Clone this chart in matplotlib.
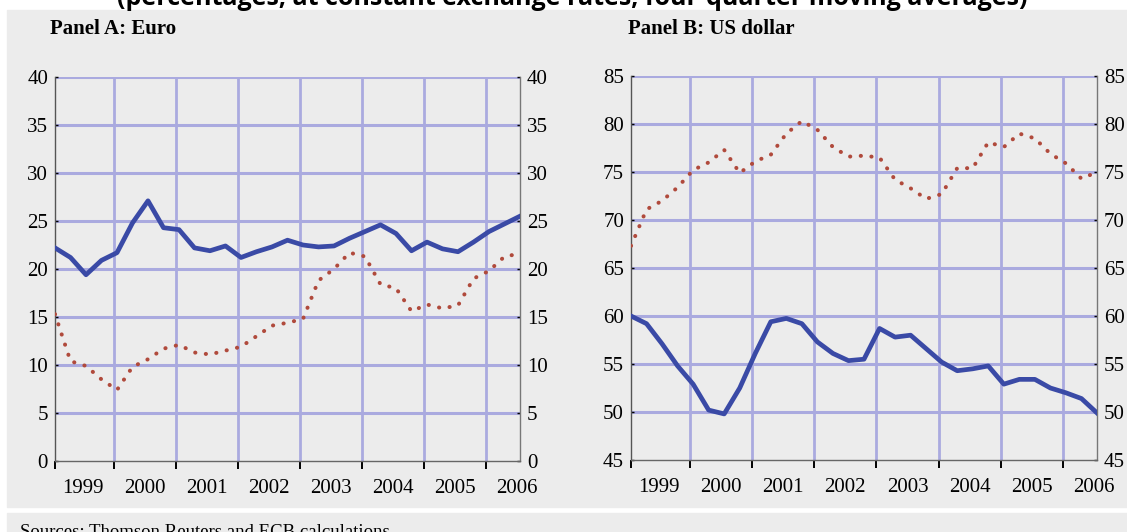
#!/usr/bin/env python3
"""Euro and US dollar shares, two panels, quarterly four-quarter moving averages."""

import numpy as np
import matplotlib
matplotlib.use('Agg')
import matplotlib.pyplot as plt
from matplotlib.patches import Rectangle
from matplotlib.ticker import FixedLocator, NullFormatter, FixedFormatter

# quarterly observations 1999Q1 .. 2006Q3 (31 points)
quarters = 1999.05 + 0.25 * np.arange(31)

euro_solid = [22.2, 21.2, 19.4, 20.9, 21.7, 24.8, 27.1, 24.3, 24.1, 22.2, 21.9,
              22.4, 21.2, 21.8, 22.3, 23.0, 22.5, 22.3, 22.4, 23.2, 23.9, 24.6,
              23.7, 21.9, 22.8, 22.1, 21.8, 22.8, 23.9, 24.7, 25.5]
euro_dotted = [15.3, 10.4, 9.9, 8.5, 7.4, 9.8, 10.6, 11.7, 12.1, 11.3, 11.1,
               11.5, 11.9, 13.0, 14.1, 14.4, 14.8, 18.8, 20.0, 21.7, 21.3, 18.4,
               18.0, 15.6, 16.3, 15.9, 16.2, 19.0, 19.8, 21.3, 21.6]

usd_solid = [60.0, 59.2, 57.1, 54.8, 52.9, 50.2, 49.8, 52.5, 56.1, 59.4, 59.75,
             59.2, 57.3, 56.1, 55.35, 55.5, 58.7, 57.8, 58.0, 56.6, 55.2, 54.3,
             54.5, 54.8, 52.9, 53.4, 53.4, 52.5, 52.0, 51.4, 49.9]
usd_dotted = [67.3, 71.1, 72.0, 73.4, 75.2, 76.0, 77.3, 74.9, 76.1, 76.8, 79.0,
              80.3, 79.4, 77.6, 76.6, 76.7, 76.5, 74.2, 73.3, 72.2, 72.7, 75.4,
              75.4, 78.1, 77.6, 79.0, 78.5, 76.9, 75.9, 74.3, 75.0]

years = [1999, 2000, 2001, 2002, 2003, 2004, 2005, 2006]
year_labels = [str(y) for y in years]

euro_yticks = [0, 5, 10, 15, 20, 25, 30, 35, 40]
usd_yticks = [45, 50, 55, 60, 65, 70, 75, 80, 85]

title = "(percentages; at constant exchange rates; four-quarter moving averages)"
panel_titles = ["Panel A: Euro", "Panel B: US dollar"]
source = "Sources: Thomson Reuters and ECB calculations"

BG = '#ececec'
GRID = '#aaaadf'
BLUE = '#3a4aa6'
RED = '#b04a3c'
SERIF = 'Liberation Serif'

W, H = 1127, 532
fig = plt.figure(figsize=(W / 100, H / 100), dpi=100, facecolor='white')

# grey background panels, kept behind the axes
fig.patches.append(Rectangle((7 / W, 1 - 507 / H), 1 - 7 / W, (507 - 10) / H,
                             transform=fig.transFigure, color=BG, zorder=-10))
fig.patches.append(Rectangle((7 / W, 0), 1 - 7 / W, (532 - 513) / H,
                             transform=fig.transFigure, color=BG, zorder=-10))

fig.text(0.508, 1 - 5 / H, title, ha='center', va='baseline',
         fontsize=18, fontweight='bold', family='Open Sans')
fig.text(20 / W, 1 - 537 / H, source, ha='left', va='baseline',
         fontsize=13.5, family=SERIF)


def draw_panel(rect, solid, dotted, yticks, ptitle, title_x):
    ax = fig.add_axes(rect)
    ax.set_facecolor(BG)
    ax.set_xlim(1999.05, 2006.55)
    ax.set_ylim(yticks[0], yticks[-1])

    for yv in yticks[1:]:
        ax.axhline(yv, color=GRID, linewidth=2.2, zorder=1)
    for xv in years[1:]:
        ax.axvline(xv, color=GRID, linewidth=2.0, zorder=1)

    ax.plot(quarters, dotted, color=RED, linestyle=(0, (0.05, 2.6)),
            linewidth=2.9, dash_capstyle='round', zorder=3)
    ax.plot(quarters, solid, color=BLUE, linewidth=3.4, zorder=4,
            solid_joinstyle='round')

    ax.spines['top'].set_visible(False)
    ax.spines['left'].set_color('#555555')
    ax.spines['right'].set_color('#777777')
    ax.spines['bottom'].set_color('#666666')
    for s in ['left', 'right', 'bottom']:
        ax.spines[s].set_linewidth(1.0)

    ax.set_yticks(yticks)
    ax.tick_params(axis='y', left=True, right=True, labelleft=True,
                   labelright=True, direction='in', length=2, width=1,
                   color='black', labelsize=15, pad=5)

    ax.xaxis.set_major_locator(FixedLocator([1999.05] + years[1:]))
    ax.xaxis.set_major_formatter(NullFormatter())
    ax.xaxis.set_minor_locator(FixedLocator([y + 0.5 for y in years]))
    ax.xaxis.set_minor_formatter(FixedFormatter(year_labels))
    ax.tick_params(axis='x', which='major', direction='out', length=6,
                   width=1.4, color='black')
    ax.tick_params(axis='x', which='minor', length=0, labelsize=15, pad=13)

    for lab in ax.get_xticklabels(minor=True) + ax.yaxis.get_ticklabels(which='both'):
        lab.set_family(SERIF)
    for t in ax.yaxis.get_major_ticks():
        t.label2.set_family(SERIF)

    fig.text(title_x / W, 1 - 34 / H, ptitle, ha='left', va='baseline',
             fontsize=15, fontweight='bold', family=SERIF)
    return ax


draw_panel([55 / W, 1 - 461 / H, 465 / W, 384 / H], euro_solid, euro_dotted,
           euro_yticks, panel_titles[0], 50)
draw_panel([631 / W, 1 - 460 / H, 466 / W, 384 / H], usd_solid, usd_dotted,
           usd_yticks, panel_titles[1], 628)

fig.savefig('out.png', dpi=100, facecolor='white')
